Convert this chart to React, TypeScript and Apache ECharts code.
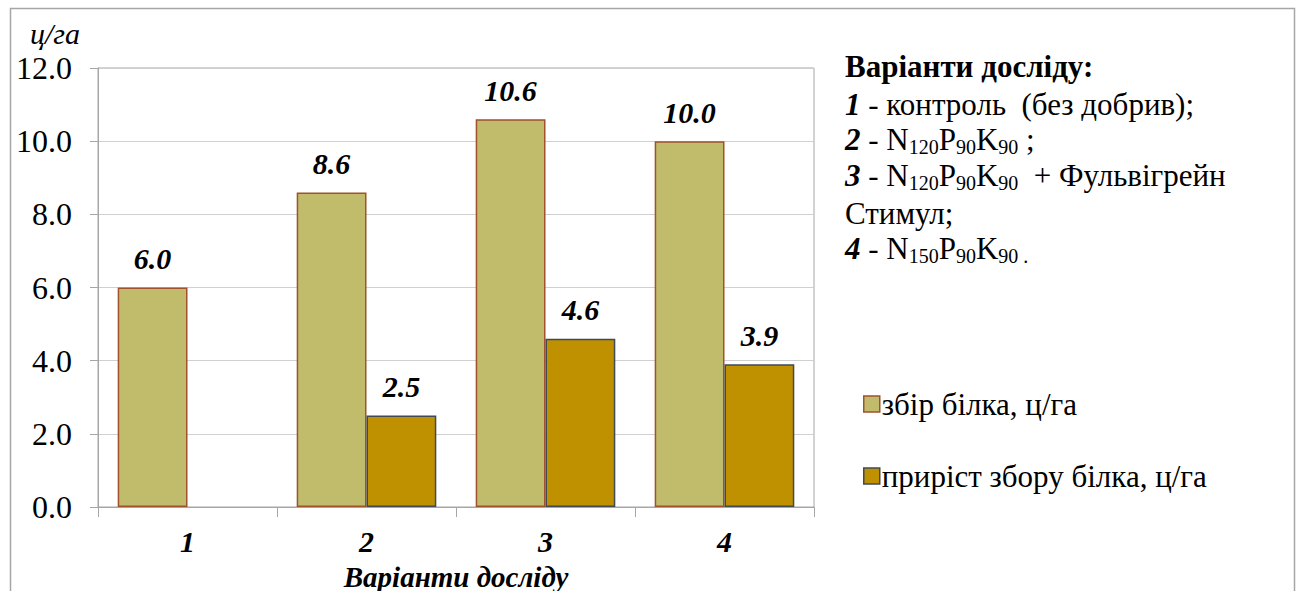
import React, { useEffect, useRef } from "react";
import * as echarts from "echarts";

const categories = ["1", "2", "3", "4"];
const proteinYield = [6.0, 8.6, 10.6, 10.0];
const proteinGain: (number | null)[] = [null, 2.5, 4.6, 3.9];
const seriesNames = ["збір білка, ц/га", "приріст збору білка, ц/га"];
const yTicks = { min: 0, max: 12, interval: 2 };

const SERIF = "Liberation Serif";
const GRAY = "#A6A6A6";

export default function App() {
  const ref = useRef<HTMLDivElement>(null);
  useEffect(() => {
    if (!ref.current) return;
    const chart = echarts.init(ref.current, undefined, { renderer: "svg" });
    const labelStyle = {
      show: true,
      position: "top" as const,
      distance: 13,
      fontFamily: SERIF,
      fontSize: 30,
      lineHeight: 32,
      fontWeight: "bold" as const,
      fontStyle: "italic" as const,
      color: "#000",
      formatter: (p: any) => (p.value == null ? "" : Number(p.value).toFixed(1)),
    };
    const lineText = (y: number, text: string) => ({
      type: "text",
      left: 845,
      top: y,
      style: {
        text,
        fontFamily: SERIF,
        fontSize: 31,
        lineHeight: 36,
        fill: "#000",
        rich: {
          h: { fontFamily: SERIF, fontSize: 31, lineHeight: 36, fontWeight: "bold", fill: "#000" },
          bi: { fontFamily: SERIF, fontSize: 31, lineHeight: 36, fontWeight: "bold", fontStyle: "italic", fill: "#000" },
          n: { fontFamily: SERIF, fontSize: 31, fill: "#000", lineHeight: 36 },
          s: { fontFamily: SERIF, fontSize: 20, fill: "#000", lineHeight: 20, verticalAlign: "bottom" },
        },
      },
    });
    chart.setOption({
      animation: false,
      backgroundColor: "#fff",
      grid: {
        left: 98,
        right: 485,
        top: 68,
        bottom: 84,
        show: true,
        borderColor: GRAY,
        borderWidth: 1,
        outerBoundsMode: "none",
        containLabel: false,
      },
      legend: {
        orient: "vertical",
        left: 858,
        top: 382,
        itemGap: 38,
        itemWidth: 16,
        itemHeight: 16,
        icon: "rect",
        textStyle: { fontFamily: SERIF, fontSize: 31, lineHeight: 34, color: "#000", padding: [0, 0, 0, -3] },
        data: [
          { name: seriesNames[0], itemStyle: { color: "#C0BC6C", borderColor: "#A0522D", borderWidth: 1.5 } },
          { name: seriesNames[1], itemStyle: { color: "#BF9000", borderColor: "#3F4A55", borderWidth: 1.5 } },
        ],
      },
      xAxis: {
        type: "category",
        data: categories,
        axisLine: { lineStyle: { color: GRAY } },
        axisTick: { show: true, length: 10, lineStyle: { color: GRAY } },
        axisLabel: {
          margin: 18,
          fontFamily: SERIF,
          fontSize: 30,
          lineHeight: 32,
          fontWeight: "bold",
          fontStyle: "italic",
          color: "#000",
        },
        name: "Варіанти досліду",
        nameLocation: "middle",
        nameGap: 47,
        nameTextStyle: { fontFamily: SERIF, fontSize: 29, lineHeight: 30, fontWeight: "bold", fontStyle: "italic", color: "#000" },
      },
      yAxis: {
        type: "value",
        min: yTicks.min,
        max: yTicks.max,
        interval: yTicks.interval,
        axisLine: { show: true, lineStyle: { color: GRAY } },
        axisTick: { show: true, length: 8, lineStyle: { color: GRAY } },
        splitLine: { show: true, lineStyle: { color: "#D0D0D0" } },
        axisLabel: {
          margin: 26,
          fontFamily: SERIF,
          fontSize: 32,
          lineHeight: 34,
          color: "#000",
          formatter: (v: number) => v.toFixed(1),
        },
      },
      series: [
        {
          name: seriesNames[0],
          type: "bar",
          data: proteinYield,
          barGap: "0%",
          barCategoryGap: "22%",
          itemStyle: { color: "#C0BC6C", borderColor: "#A0522D", borderWidth: 1.5 },
          label: labelStyle,
        },
        {
          name: seriesNames[1],
          type: "bar",
          data: proteinGain,
          barGap: "0%",
          barCategoryGap: "22%",
          itemStyle: { color: "#BF9000", borderColor: "#3F4A55", borderWidth: 1.5 },
          label: labelStyle,
        },
      ],
      graphic: [
        {
          type: "rect",
          left: 8,
          top: 6,
          shape: { width: 1284, height: 600 },
          style: { fill: "none", stroke: GRAY, lineWidth: 1.5 },
          z: -1,
        },
        {
          type: "text",
          left: 30,
          top: 16,
          style: { text: "ц/га", fontFamily: SERIF, fontSize: 30, lineHeight: 34, fontStyle: "italic", fill: "#000" },
        },
        lineText(48, "{h|Варіанти досліду:}"),
        lineText(86, "{bi|1}{n| - контроль  (без добрив);}"),
        lineText(121, "{bi|2}{n| - N}{s|120}{n|P}{s|90}{n|K}{s|90}{n| ;}"),
        lineText(157, "{bi|3}{n| - N}{s|120}{n|P}{s|90}{n|K}{s|90}{n|  + Фульвігрейн}"),
        lineText(195, "{n|Стимул;}"),
        lineText(230, "{bi|4}{n| - N}{s|150}{n|P}{s|90}{n|K}{s|90 .}"),
      ],
    });
    return () => chart.dispose();
  }, []);
  return (
    <div
      ref={ref}
      style={{ position: "absolute", left: 0, top: 0, width: 1299, height: 591 }}
    />
  );
}
